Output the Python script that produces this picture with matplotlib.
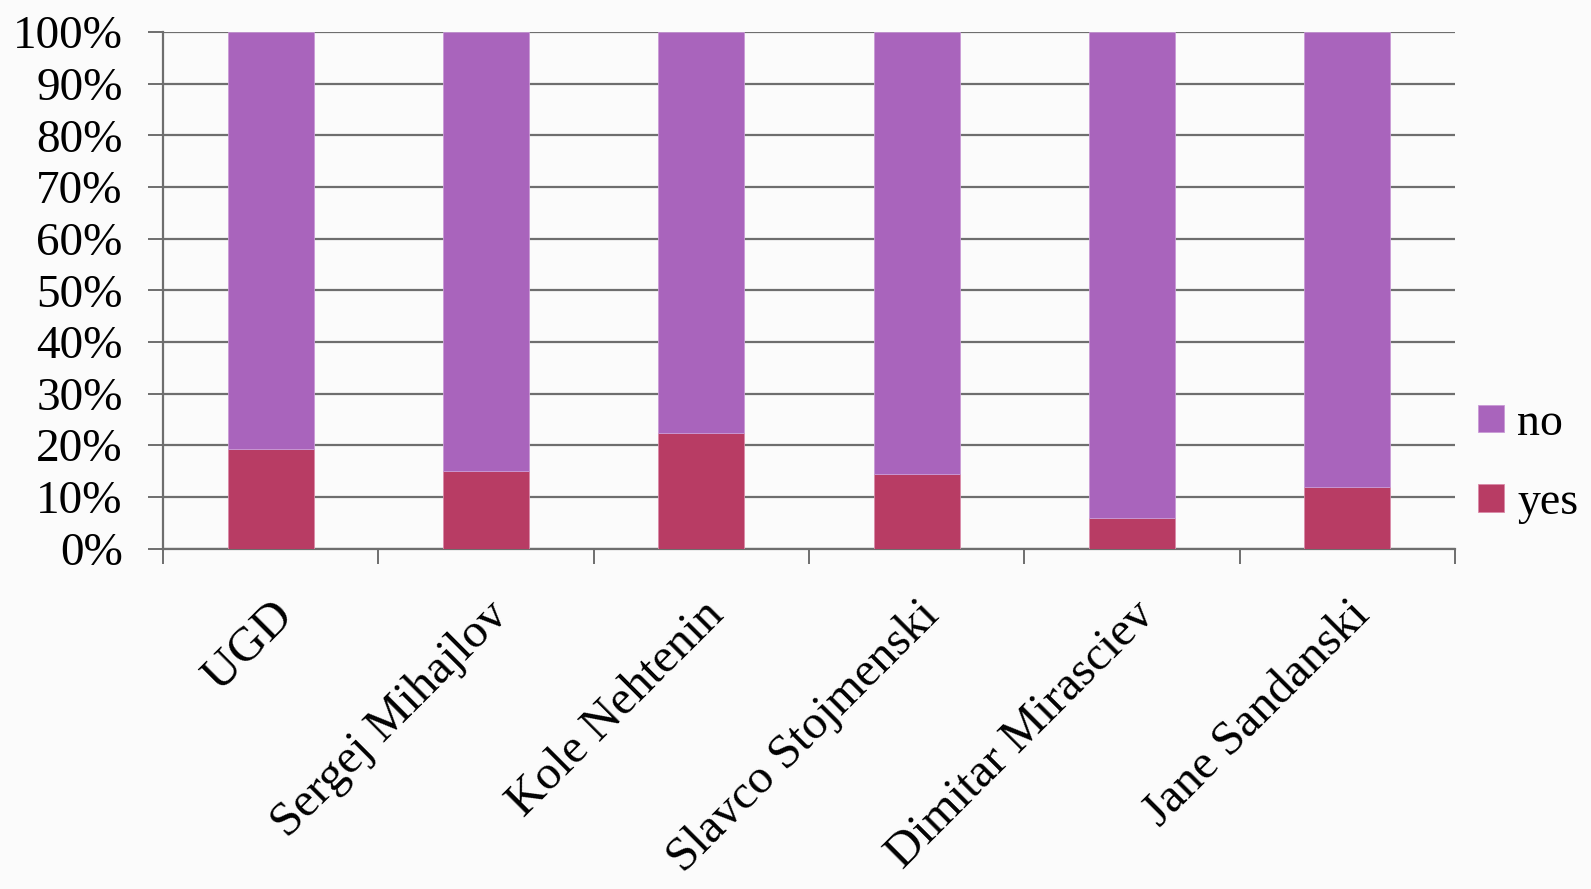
import matplotlib.pyplot as plt
import numpy as np
from matplotlib.ticker import FuncFormatter

categories = ["UGD", "Sergej Mihajlov", "Kole Nehtenin", "Slavco Stojmenski",
              "Dimitar Mirasciev", "Jane Sandanski"]
yes_pct = [19.2, 15.1, 22.4, 14.5, 5.9, 12.0]
no_pct = [100 - v for v in yes_pct]

plt.rcParams['font.family'] = ['Liberation Serif', 'DejaVu Serif']

fig = plt.figure(figsize=(15.91, 8.89), dpi=100)
fig.patch.set_facecolor("#fbfbfb")
ax = fig.add_axes([0.1025, 0.383, 0.812, 0.581])
ax.set_facecolor("none")

x = np.arange(len(categories))
grid_color = "#6e6e6e"

b_yes = ax.bar(x, yes_pct, width=0.4, color="#b83c64", edgecolor="#d98aa8",
               linewidth=0.6, label="yes", zorder=3)
b_no = ax.bar(x, no_pct, bottom=yes_pct, width=0.4, color="#a964bc",
              edgecolor="#c99ad6", linewidth=0.6, label="no", zorder=3)

ax.set_xlim(-0.5, len(categories) - 0.5)
ax.set_ylim(0, 100)
ax.set_yticks(range(0, 101, 10))
ax.yaxis.set_major_formatter(FuncFormatter(lambda v, p: f"{int(v)}%"))
ax.yaxis.grid(True, color=grid_color, linewidth=1.6, zorder=0)

# tick marks at category boundaries, labels at centres
ax.set_xticks(np.arange(-0.5, len(categories), 1))
ax.set_xticklabels([])
ax.set_xticks(x, minor=True)
ax.set_xticklabels(categories, minor=True, rotation=45, ha="right",
                   rotation_mode="anchor", fontsize=35)
ax.tick_params(axis="x", which="major", length=11, width=1.4, color=grid_color)
ax.tick_params(axis="x", which="minor", length=0, pad=32)
ax.tick_params(axis="y", length=11, width=1.4, color=grid_color,
               labelsize=34, pad=18)

for side in ["top", "right"]:
    ax.spines[side].set_visible(False)
for side in ["left", "bottom"]:
    ax.spines[side].set_color(grid_color)
    ax.spines[side].set_linewidth(1.6)

ax.legend(handles=[b_no, b_yes], labels=["no", "yes"], loc="center left",
          bbox_to_anchor=(0.909, 0.479), bbox_transform=fig.transFigure,
          frameon=False, fontsize=33, handlelength=0.55, handleheight=0.55,
          handletextpad=0.3, labelspacing=0.8, borderpad=0.2)

fig.savefig("out.png", dpi=100, facecolor=fig.get_facecolor())
